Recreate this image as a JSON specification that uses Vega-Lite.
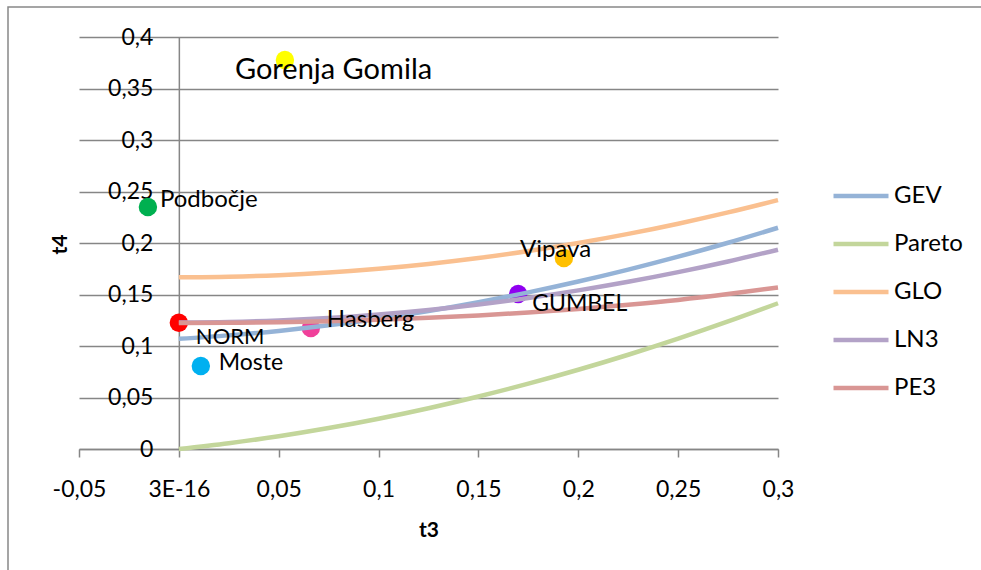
{
  "$schema": "https://vega.github.io/schema/vega-lite/v6.json",
  "width": 699,
  "height": 412,
  "autosize": {"type": "none"},
  "padding": {"left": 79, "top": 37, "right": 203, "bottom": 121},
  "background": "white",
  "config": {"view": {"stroke": null}, "font": "Lato"},
  "datasets": {
    "curves": [
      {"dist": "GEV", "t3": 0, "t4": 0.10701},
      {"dist": "GEV", "t3": 0.025, "t4": 0.11031},
      {"dist": "GEV", "t3": 0.05, "t4": 0.11467},
      {"dist": "GEV", "t3": 0.075, "t4": 0.12007},
      {"dist": "GEV", "t3": 0.1, "t4": 0.12652},
      {"dist": "GEV", "t3": 0.125, "t4": 0.134},
      {"dist": "GEV", "t3": 0.15, "t4": 0.14251},
      {"dist": "GEV", "t3": 0.175, "t4": 0.15204},
      {"dist": "GEV", "t3": 0.2, "t4": 0.16259},
      {"dist": "GEV", "t3": 0.225, "t4": 0.17415},
      {"dist": "GEV", "t3": 0.25, "t4": 0.18671},
      {"dist": "GEV", "t3": 0.275, "t4": 0.20026},
      {"dist": "GEV", "t3": 0.3, "t4": 0.2148},
      {"dist": "Pareto", "t3": 0, "t4": 0},
      {"dist": "Pareto", "t3": 0.025, "t4": 0.0056},
      {"dist": "Pareto", "t3": 0.05, "t4": 0.01238},
      {"dist": "Pareto", "t3": 0.075, "t4": 0.02032},
      {"dist": "Pareto", "t3": 0.1, "t4": 0.02941},
      {"dist": "Pareto", "t3": 0.125, "t4": 0.03963},
      {"dist": "Pareto", "t3": 0.15, "t4": 0.05097},
      {"dist": "Pareto", "t3": 0.175, "t4": 0.06341},
      {"dist": "Pareto", "t3": 0.2, "t4": 0.07692},
      {"dist": "Pareto", "t3": 0.225, "t4": 0.09151},
      {"dist": "Pareto", "t3": 0.25, "t4": 0.10714},
      {"dist": "Pareto", "t3": 0.275, "t4": 0.12382},
      {"dist": "Pareto", "t3": 0.3, "t4": 0.14151},
      {"dist": "GLO", "t3": 0, "t4": 0.16667},
      {"dist": "GLO", "t3": 0.025, "t4": 0.16719},
      {"dist": "GLO", "t3": 0.05, "t4": 0.16875},
      {"dist": "GLO", "t3": 0.075, "t4": 0.17135},
      {"dist": "GLO", "t3": 0.1, "t4": 0.175},
      {"dist": "GLO", "t3": 0.125, "t4": 0.17969},
      {"dist": "GLO", "t3": 0.15, "t4": 0.18542},
      {"dist": "GLO", "t3": 0.175, "t4": 0.19219},
      {"dist": "GLO", "t3": 0.2, "t4": 0.2},
      {"dist": "GLO", "t3": 0.225, "t4": 0.20885},
      {"dist": "GLO", "t3": 0.25, "t4": 0.21875},
      {"dist": "GLO", "t3": 0.275, "t4": 0.22969},
      {"dist": "GLO", "t3": 0.3, "t4": 0.24167},
      {"dist": "LN3", "t3": 0, "t4": 0.12282},
      {"dist": "LN3", "t3": 0.025, "t4": 0.1233},
      {"dist": "LN3", "t3": 0.05, "t4": 0.12476},
      {"dist": "LN3", "t3": 0.075, "t4": 0.12718},
      {"dist": "LN3", "t3": 0.1, "t4": 0.13058},
      {"dist": "LN3", "t3": 0.125, "t4": 0.13496},
      {"dist": "LN3", "t3": 0.15, "t4": 0.14032},
      {"dist": "LN3", "t3": 0.175, "t4": 0.14667},
      {"dist": "LN3", "t3": 0.2, "t4": 0.15402},
      {"dist": "LN3", "t3": 0.225, "t4": 0.16236},
      {"dist": "LN3", "t3": 0.25, "t4": 0.17172},
      {"dist": "LN3", "t3": 0.275, "t4": 0.18209},
      {"dist": "LN3", "t3": 0.3, "t4": 0.19349},
      {"dist": "PE3", "t3": 0, "t4": 0.1224},
      {"dist": "PE3", "t3": 0.025, "t4": 0.12259},
      {"dist": "PE3", "t3": 0.05, "t4": 0.12316},
      {"dist": "PE3", "t3": 0.075, "t4": 0.12412},
      {"dist": "PE3", "t3": 0.1, "t4": 0.12551},
      {"dist": "PE3", "t3": 0.125, "t4": 0.12734},
      {"dist": "PE3", "t3": 0.15, "t4": 0.12965},
      {"dist": "PE3", "t3": 0.175, "t4": 0.1325},
      {"dist": "PE3", "t3": 0.2, "t4": 0.13594},
      {"dist": "PE3", "t3": 0.225, "t4": 0.14003},
      {"dist": "PE3", "t3": 0.25, "t4": 0.14474},
      {"dist": "PE3", "t3": 0.275, "t4": 0.15041},
      {"dist": "PE3", "t3": 0.3, "t4": 0.15686}
    ],
    "stations": [
      {"name": "Gorenja Gomila", "t3": 0.0531, "t4": 0.3777},
      {"name": "Podbočje", "t3": -0.0155, "t4": 0.235},
      {"name": "NORM", "t3": 0, "t4": 0.1226},
      {"name": "Moste", "t3": 0.011, "t4": 0.0806},
      {"name": "Hasberg", "t3": 0.0661, "t4": 0.1175},
      {"name": "GUMBEL", "t3": 0.1699, "t4": 0.1504},
      {"name": "Vipava", "t3": 0.1928, "t4": 0.1854}
    ],
    "frame": [
      {"x1": -0.08555, "x2": 0.5, "y1": 0.4291, "y2": -0.2}
    ]
  },
  "resolve": {"scale": {"color": "independent"}},
  "layer": [
    {
      "data": {"name": "stations"},
      "mark": {"type": "circle", "size": 340, "opacity": 1},
      "encoding": {
        "x": {
          "field": "t3", "type": "quantitative",
          "scale": {"domain": [-0.05, 0.3], "nice": false, "zero": false},
          "axis": {
            "values": [-0.05, 0, 0.05, 0.1, 0.15, 0.2, 0.25, 0.3],
            "labelExpr": "datum.value == 0 ? '3E-16' : replace(replace(format(datum.value, '.2~f'), '.', ','), '\u2212', '-')",
            "grid": false,
            "domainColor": "#868686", "domainWidth": 1.5,
            "tickColor": "#868686", "tickWidth": 1.5, "tickSize": 8,
            "labelFont": "Lato", "labelFontSize": 23, "labelColor": "#000000", "labelPadding": 21,
            "labelFlush": false, "labelOverlap": false,
            "title": "t3", "titleFont": "Lato", "titleFontSize": 21, "titleFontWeight": "bold", "titleColor": "#000000", "titlePadding": 18
          }
        },
        "y": {
          "field": "t4", "type": "quantitative",
          "scale": {"domain": [0, 0.4], "nice": false},
          "axis": {
            "values": [0, 0.05, 0.1, 0.15, 0.2, 0.25, 0.3, 0.35, 0.4],
            "labelExpr": "replace(format(datum.value, '.2~f'), '.', ',')",
            "offset": -99.857,
            "grid": true, "gridColor": "#868686", "gridWidth": 1.5,
            "domainColor": "#868686", "domainWidth": 1.5,
            "ticks": false,
            "labelFont": "Lato", "labelFontSize": 23, "labelColor": "#000000", "labelPadding": 26,
            "labelFlush": false, "labelOverlap": false,
            "title": "t4", "titleFont": "Lato", "titleFontSize": 21, "titleFontWeight": "bold", "titleColor": "#000000",
            "titleX": -108, "titleY": 207, "titleAngle": -90
          }
        },
        "color": {
          "field": "name", "type": "nominal", "legend": null,
          "scale": {
            "domain": ["Gorenja Gomila", "Podbočje", "NORM", "Moste", "Hasberg", "GUMBEL", "Vipava"],
            "range": ["#FFFF00", "#00B050", "#FF0000", "#00B0F0", "#F0409A", "#8F00F0", "#FFC000"]
          }
        }
      }
    },
    {
      "data": {"name": "frame"},
      "mark": {"type": "rect", "filled": false, "color": "#888888", "strokeWidth": 1.5, "clip": false},
      "encoding": {
        "x": {"field": "x1", "type": "quantitative"},
        "x2": {"field": "x2"},
        "y": {"field": "y1", "type": "quantitative"},
        "y2": {"field": "y2"}
      }
    },
    {
      "data": {"name": "curves"},
      "mark": {"type": "line", "strokeWidth": 4.5, "interpolate": "monotone"},
      "encoding": {
        "x": {"field": "t3", "type": "quantitative"},
        "y": {"field": "t4", "type": "quantitative"},
        "color": {
          "field": "dist", "type": "nominal",
          "scale": {"domain": ["GEV", "Pareto", "GLO", "LN3", "PE3"], "range": ["#95B3D7", "#C3D69B", "#FAC090", "#B3A2C7", "#D99694"]},
          "legend": {
            "orient": "none", "legendX": 752, "legendY": 129, "title": null,
            "symbolType": "stroke", "symbolStrokeWidth": 4.5, "symbolSize": 3025,
            "labelFont": "Lato", "labelFontSize": 24, "labelColor": "#000000", "labelOffset": 3,
            "rowPadding": 6
          }
        }
      }
    },
    {
      "data": {"name": "stations"},
      "transform": [{"filter": "datum.name == 'Gorenja Gomila'"}],
      "mark": {"type": "text", "align": "left", "baseline": "middle", "dx": -50, "dy": 10, "font": "Lato", "fontSize": 29, "color": "#000000"},
      "encoding": {"x": {"field": "t3", "type": "quantitative"}, "y": {"field": "t4", "type": "quantitative"}, "text": {"field": "name"}}
    },
    {
      "data": {"name": "stations"},
      "transform": [{"filter": "datum.name == 'Podbočje'"}],
      "mark": {"type": "text", "align": "left", "baseline": "middle", "dx": 12, "dy": -7, "font": "Lato", "fontSize": 24, "color": "#000000"},
      "encoding": {"x": {"field": "t3", "type": "quantitative"}, "y": {"field": "t4", "type": "quantitative"}, "text": {"field": "name"}}
    },
    {
      "data": {"name": "stations"},
      "transform": [{"filter": "datum.name == 'NORM'"}],
      "mark": {"type": "text", "align": "left", "baseline": "middle", "dx": 17, "dy": 14, "font": "Lato", "fontSize": 22, "color": "#000000"},
      "encoding": {"x": {"field": "t3", "type": "quantitative"}, "y": {"field": "t4", "type": "quantitative"}, "text": {"field": "name"}}
    },
    {
      "data": {"name": "stations"},
      "transform": [{"filter": "datum.name == 'Moste'"}],
      "mark": {"type": "text", "align": "left", "baseline": "middle", "dx": 18, "dy": -3, "font": "Lato", "fontSize": 23, "color": "#000000"},
      "encoding": {"x": {"field": "t3", "type": "quantitative"}, "y": {"field": "t4", "type": "quantitative"}, "text": {"field": "name"}}
    },
    {
      "data": {"name": "stations"},
      "transform": [{"filter": "datum.name == 'Hasberg'"}],
      "mark": {"type": "text", "align": "left", "baseline": "middle", "dx": 16, "dy": -8, "font": "Lato", "fontSize": 24, "color": "#000000"},
      "encoding": {"x": {"field": "t3", "type": "quantitative"}, "y": {"field": "t4", "type": "quantitative"}, "text": {"field": "name"}}
    },
    {
      "data": {"name": "stations"},
      "transform": [{"filter": "datum.name == 'GUMBEL'"}],
      "mark": {"type": "text", "align": "left", "baseline": "middle", "dx": 14, "dy": 10, "font": "Lato", "fontSize": 23, "color": "#000000"},
      "encoding": {"x": {"field": "t3", "type": "quantitative"}, "y": {"field": "t4", "type": "quantitative"}, "text": {"field": "name"}}
    },
    {
      "data": {"name": "stations"},
      "transform": [{"filter": "datum.name == 'Vipava'"}],
      "mark": {"type": "text", "align": "left", "baseline": "middle", "dx": -44, "dy": -8, "font": "Lato", "fontSize": 24, "color": "#000000"},
      "encoding": {"x": {"field": "t3", "type": "quantitative"}, "y": {"field": "t4", "type": "quantitative"}, "text": {"field": "name"}}
    }
  ]
}
